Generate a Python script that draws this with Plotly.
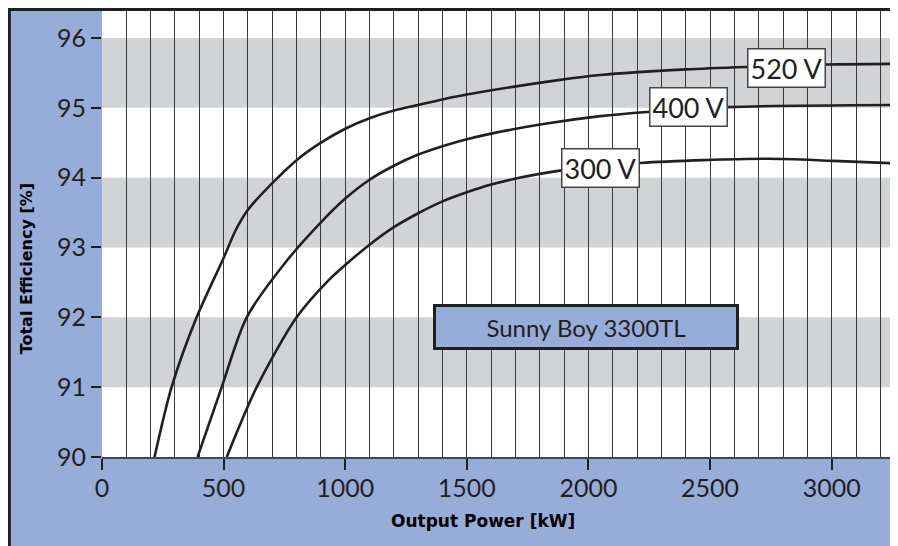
import plotly.graph_objects as go

# ---- data ----
x_520 = [216, 286, 389, 500, 550, 600, 700, 800, 900, 1000, 1100, 1200, 1300, 1400, 1500, 1883, 2048, 2400, 2652, 2981, 3300]
y_520 = [90.0, 91.0, 92.0, 92.85, 93.25, 93.54, 93.92, 94.25, 94.50, 94.70, 94.85, 94.96, 95.04, 95.12, 95.19, 95.40, 95.47, 95.55, 95.585, 95.62, 95.63]

x_400 = [393, 492, 595, 762, 900, 1000, 1100, 1200, 1300, 1400, 1500, 1600, 1801, 2048, 2241, 2574, 3300]
y_400 = [90.0, 91.0, 92.0, 92.82, 93.36, 93.70, 93.97, 94.17, 94.33, 94.45, 94.55, 94.63, 94.76, 94.88, 94.94, 95.01, 95.04]

x_300 = [513, 636, 800, 931, 1000, 1100, 1200, 1300, 1400, 1500, 1600, 1706, 1883, 2212, 2734, 3006, 3300]
y_300 = [90.0, 91.0, 92.0, 92.53, 92.75, 93.04, 93.29, 93.49, 93.66, 93.79, 93.90, 93.99, 94.10, 94.21, 94.27, 94.24, 94.20]

series_names = ["520 V", "400 V", "300 V"]
label_x = [2812, 2410, 2048]
label_y = [95.57, 95.01, 94.14]

x_ticks = [0, 500, 1000, 1500, 2000, 2500, 3000]
y_ticks = [90, 91, 92, 93, 94, 95, 96]
bands = [(91, 92), (93, 94), (95, 96)]

BLUE = "#96ADD9"
GRAY = "#D2D3D5"
INK = "#231F20"
FONT = "Lato"
BOLD = "DejaVu Sans"

# figure larger than the window; the page hides the overflow so the plot runs to the edge
FIG_W, FIG_H = 930, 570
L, T, PLOT_H = 93.7, 2.0, 447.0
PLOT_W = FIG_W - L
X_MAX = PLOT_W / 0.24333   # keeps 500 kW = 121.7 px

fig = go.Figure()
for xs, ys in [(x_520, y_520), (x_400, y_400), (x_300, y_300)]:
    fig.add_trace(go.Scatter(x=xs, y=ys, mode="lines",
                             line=dict(color=INK, width=2.6, shape="spline", smoothing=0.8),
                             showlegend=False, hoverinfo="skip"))

for y0, y1 in bands:
    fig.add_shape(type="rect", xref="paper", x0=0, x1=1, yref="y", y0=y0, y1=y1,
                  fillcolor=GRAY, line_width=0, layer="below")

for name, lx, ly in zip(series_names, label_x, label_y):
    fig.add_annotation(x=lx, y=ly, text=name, showarrow=False,
                       font=dict(family=FONT, size=27, color=INK),
                       bgcolor="white", bordercolor="#444444", borderwidth=1.5, borderpad=2)

fig.add_annotation(x=1990, y=91.86, text="Sunny Boy 3300TL", showarrow=False,
                   font=dict(family=FONT, size=24, color=INK),
                   width=298, height=38, bgcolor=BLUE, bordercolor=INK,
                   borderwidth=3, borderpad=1)

def px_x(p): return (p - L) / PLOT_W
def px_y(p): return (T + PLOT_H - p) / PLOT_H

fig.add_annotation(xref="paper", yref="paper", x=px_x(475), y=px_y(513),
                   xanchor="center", yanchor="middle",
                   text="<b>Output Power [kW]</b>", showarrow=False,
                   font=dict(family=BOLD, size=17, color="black"))
fig.add_annotation(xref="paper", yref="paper", x=px_x(18), y=px_y(261),
                   xanchor="center", yanchor="middle",
                   text="<b>Total Efficiency [%]</b>", showarrow=False, textangle=-90,
                   font=dict(family=BOLD, size=16, color="black"))

# dark frame lines along the left and top edges of the figure
fig.add_shape(type="line", xref="paper", yref="paper", x0=px_x(1), x1=px_x(1),
              y0=px_y(FIG_H + 2), y1=px_y(0), line=dict(color=INK, width=3), layer="above")
fig.add_shape(type="line", xref="paper", yref="paper", x0=px_x(0), x1=px_x(FIG_W + 2),
              y0=px_y(1.5), y1=px_y(1.5), line=dict(color=INK, width=3), layer="above")

fig.update_xaxes(range=[0, X_MAX], tickmode="array", tickvals=x_ticks,
                 ticks="outside", ticklen=11, tickwidth=1.5, tickcolor=INK,
                 ticklabelstandoff=-3,
                 showgrid=True, gridcolor="#3a3a3a", gridwidth=1.2,
                 minor=dict(dtick=100, tick0=0, showgrid=True, gridcolor="#3a3a3a", gridwidth=1.2, ticks=""),
                 showline=True, linecolor="#3d4660", linewidth=1.5,
                 tickfont=dict(family=FONT, size=25, color=INK), zeroline=False)
fig.update_yaxes(range=[90, 96.4], tickmode="array", tickvals=y_ticks,
                 ticks="outside", ticklen=10, tickwidth=1.5, tickcolor=INK,
                 showgrid=False, showline=False, zeroline=False,
                 tickfont=dict(family=FONT, size=25, color=INK))

fig.update_layout(width=FIG_W, height=FIG_H,
                  margin=dict(l=L, r=0, t=T, b=FIG_H - T - PLOT_H, pad=0),
                  paper_bgcolor=BLUE, plot_bgcolor="white",
                  showlegend=False)

fig.write_html("out.html",
               post_script="document.documentElement.style.overflow='hidden';"
                           "document.body.style.overflow='hidden';")
